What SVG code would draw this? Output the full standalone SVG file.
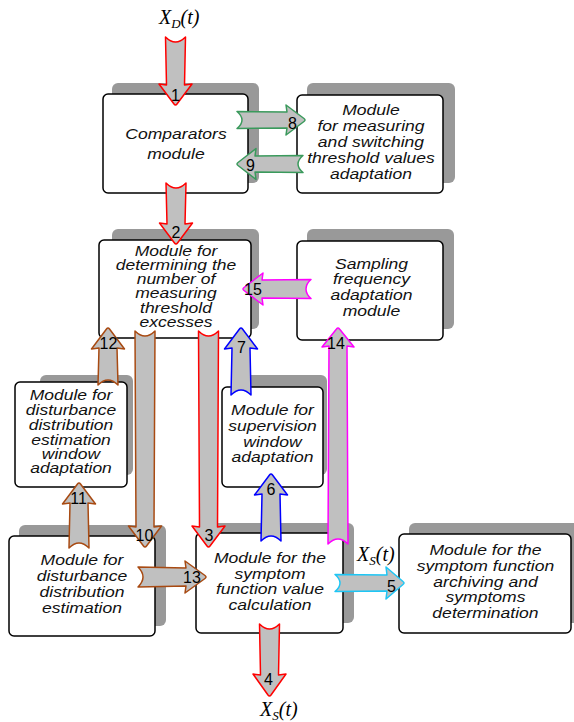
<svg xmlns="http://www.w3.org/2000/svg" width="574" height="722" viewBox="0 0 574 722">
  <style>
    .shadow { fill: #999999; }
    .box { fill: #ffffff; stroke: #000000; stroke-width: 1.5; }
    .lbl { font-family: "Liberation Sans", Arial, sans-serif; font-style: italic; font-size: 15px; text-anchor: middle; fill: #111111; }
    .tight { font-size: 14px; }
    .num { font-family: "Liberation Sans", Arial, sans-serif; font-size: 16px; text-anchor: middle; fill: #000000; }
    .sig { font-family: "Liberation Serif", "Times New Roman", serif; font-style: italic; font-size: 20px; fill: #000000; }
    .arr { fill: #c0c0c0; stroke-width: 1.5; stroke-linejoin: round; }
    .red { stroke: #ff0000; }
    .green { stroke: #3a9a5c; }
    .brown { stroke: #a84a12; }
    .blue { stroke: #0000ff; }
    .magenta { stroke: #ff00ff; }
    .cyan { stroke: #1ec6f5; }
  </style>

  <!-- signal labels -->
  <text class="sig" x="159" y="24">X<tspan font-size="13" dy="4">D</tspan><tspan dy="-4">(t)</tspan></text>
  <text class="sig" x="357" y="561">X<tspan font-size="13" dy="4">S</tspan><tspan dy="-4">(t)</tspan></text>
  <text class="sig" x="260" y="715.5">X<tspan font-size="13" dy="4">S</tspan><tspan dy="-4">(t)</tspan></text>

  <g id="comparators">
    <rect class="shadow" x="112" y="83" width="147" height="100" rx="6"/>
    <rect class="box" x="103" y="94" width="145" height="99" rx="5"/>
    <text class="lbl" transform="translate(176 0) scale(1.17 1)"><tspan x="0" y="139">Comparators</tspan><tspan x="0" y="159">module</tspan></text>
  </g>

  <g id="threshold-adaptation">
    <rect class="shadow" x="307" y="83" width="148" height="100" rx="6"/>
    <rect class="box" x="297" y="95" width="146" height="98" rx="5"/>
    <text class="lbl" transform="translate(371 0) scale(1.17 1)"><tspan x="0" y="115">Module</tspan><tspan x="0" y="131">for measuring</tspan><tspan x="0" y="147">and switching</tspan><tspan x="0" y="163">threshold values</tspan><tspan x="0" y="179">adaptation</tspan></text>
  </g>

  <g id="excess-counter">
    <rect class="shadow" x="112" y="229" width="147" height="100" rx="6"/>
    <rect class="box" x="99" y="240" width="152" height="98" rx="5"/>
    <text class="lbl tight" transform="translate(176 0) scale(1.25 1)"><tspan x="0" y="256">Module for</tspan><tspan x="0" y="270">determining the</tspan><tspan x="0" y="284.5">number of</tspan><tspan x="0" y="298.5">measuring</tspan><tspan x="0" y="313">threshold</tspan><tspan x="0" y="327">excesses</tspan></text>
  </g>

  <g id="sampling-adaptation">
    <rect class="shadow" x="307" y="229" width="147" height="100" rx="6"/>
    <rect class="box" x="297" y="241" width="146" height="99" rx="5"/>
    <text class="lbl" transform="translate(371.5 0) scale(1.17 1)"><tspan x="0" y="269">Sampling</tspan><tspan x="0" y="284.5">frequency</tspan><tspan x="0" y="300.5">adaptation</tspan><tspan x="0" y="316.5">module</tspan></text>
  </g>

  <g id="estimation-window">
    <rect class="shadow" x="40" y="375" width="93" height="100" rx="6"/>
    <rect class="box" x="15" y="382" width="112" height="105" rx="5"/>
    <text class="lbl tight" transform="translate(71 0) scale(1.25 1)"><tspan x="0" y="400.5">Module for</tspan><tspan x="0" y="415.5">disturbance</tspan><tspan x="0" y="430">distribution</tspan><tspan x="0" y="445">estimation</tspan><tspan x="0" y="459">window</tspan><tspan x="0" y="473.5">adaptation</tspan></text>
  </g>

  <g id="supervision-window">
    <rect class="shadow" x="236" y="375" width="91" height="100" rx="6"/>
    <rect class="box" x="222" y="387" width="101" height="100" rx="5"/>
    <text class="lbl" transform="translate(272.5 0) scale(1.17 1)"><tspan x="0" y="415">Module for</tspan><tspan x="0" y="431">supervision</tspan><tspan x="0" y="447">window</tspan><tspan x="0" y="462.5">adaptation</tspan></text>
  </g>

  <g id="disturbance-estimation">
    <rect class="shadow" x="19" y="525" width="147" height="101" rx="6"/>
    <rect class="box" x="9" y="536" width="146" height="100" rx="5"/>
    <text class="lbl" transform="translate(82 0) scale(1.17 1)"><tspan x="0" y="565">Module for</tspan><tspan x="0" y="581">disturbance</tspan><tspan x="0" y="597">distribution</tspan><tspan x="0" y="613">estimation</tspan></text>
  </g>

  <g id="symptom-calculation">
    <rect class="shadow" x="206" y="523" width="148" height="100" rx="6"/>
    <rect class="box" x="196" y="533" width="147" height="100" rx="5"/>
    <text class="lbl" transform="translate(270 0) scale(1.17 1)"><tspan x="0" y="563">Module for the</tspan><tspan x="0" y="579">symptom</tspan><tspan x="0" y="594.5">function value</tspan><tspan x="0" y="610">calculation</tspan></text>
  </g>

  <g id="symptom-archiving">
    <rect class="shadow" x="409" y="523" width="175" height="100" rx="6"/>
    <rect class="box" x="399" y="534" width="172" height="99" rx="5"/>
    <text class="lbl" transform="translate(485.5 0) scale(1.17 1)"><tspan x="0" y="555">Module for the</tspan><tspan x="0" y="571">symptom function</tspan><tspan x="0" y="587">archiving and</tspan><tspan x="0" y="602.5">symptoms</tspan><tspan x="0" y="618">determination</tspan></text>
  </g>

  <!-- block arrows: drawn along +x from tail (0,0) to tip, then placed -->
  <g id="connectors">
    <path class="arr red" transform="translate(175.5 37) rotate(90)" d="M0,-10 L48,-9 L47,-16.5 L67,-1.5 Q69,0 67,1.5 L47,16.5 L48,9 L0,10 C3,7 5,3 5,0 C5,-3 3,-7 0,-10Z"/>
    <text class="num" x="175.5" y="101">1</text>

    <path class="arr red" transform="translate(176 183) rotate(90)" d="M0,-10 L41,-9 L40,-16.5 L60,-1.5 Q62,0 60,1.5 L40,16.5 L41,9 L0,10 C3,7 5,3 5,0 C5,-3 3,-7 0,-10Z"/>
    <text class="num" x="176" y="238">2</text>

    <path class="arr red" transform="translate(208.5 331) rotate(90)" d="M0,-10 L196,-9 L195,-16.5 L215,-1.5 Q217,0 215,1.5 L195,16.5 L196,9 L0,10 C3,7 5,3 5,0 C5,-3 3,-7 0,-10Z"/>
    <text class="num" x="209" y="541">3</text>

    <path class="arr red" transform="translate(269.5 624) rotate(90)" d="M0,-10 L51,-9 L50,-16.5 L71,-1.5 Q73,0 71,1.5 L50,16.5 L51,9 L0,10 C3,7 5,3 5,0 C5,-3 3,-7 0,-10Z"/>
    <text class="num" x="268.5" y="685">4</text>

    <path class="arr cyan" transform="translate(335 583)" d="M0,-8.5 L52,-8 L51,-16 L68,-1.5 Q70,0 68,1.5 L51,16 L52,8 L0,8.5 C3,6 5,3 5,0 C5,-3 3,-6 0,-8.5Z"/>
    <text class="num" x="391.5" y="592">5</text>

    <path class="arr blue" transform="translate(271 541) rotate(-90)" d="M0,-10 L47,-9 L46,-16.5 L66,-1.5 Q68,0 66,1.5 L46,16.5 L47,9 L0,10 C3,7 5,3 5,0 C5,-3 3,-7 0,-10Z"/>
    <text class="num" x="271" y="495">6</text>

    <path class="arr blue" transform="translate(241 395) rotate(-90)" d="M0,-10 L47,-9 L46,-16.5 L66,-1.5 Q68,0 66,1.5 L46,16.5 L47,9 L0,10 C3,7 5,3 5,0 C5,-3 3,-7 0,-10Z"/>
    <text class="num" x="241.5" y="352.5">7</text>

    <path class="arr green" transform="translate(237 120)" d="M0,-8.5 L50,-8 L49,-15 L67,-1.5 Q69,0 67,1.5 L49,15 L50,8 L0,8.5 C3,6 5,3 5,0 C5,-3 3,-6 0,-8.5Z"/>
    <text class="num" x="292.5" y="128.5">8</text>

    <path class="arr green" transform="translate(303 164) rotate(180)" d="M0,-8.5 L48,-8 L47,-15.5 L65,-1.5 Q67,0 65,1.5 L47,15.5 L48,8 L0,8.5 C3,6 5,3 5,0 C5,-3 3,-6 0,-8.5Z"/>
    <text class="num" x="250.5" y="171">9</text>

    <path class="arr brown" transform="translate(145 331) rotate(90)" d="M0,-10 L196,-9 L195,-16.5 L215,-1.5 Q217,0 215,1.5 L195,16.5 L196,9 L0,10 C3,7 5,3 5,0 C5,-3 3,-7 0,-10Z"/>
    <text class="num" x="144.5" y="540.5">10</text>

    <path class="arr brown" transform="translate(79 548) rotate(-90)" d="M0,-10 L45,-9 L44,-16.5 L64,-1.5 Q66,0 64,1.5 L44,16.5 L45,9 L0,10 C3,7 5,3 5,0 C5,-3 3,-7 0,-10Z"/>
    <text class="num" x="78.5" y="503.5">11</text>

    <path class="arr brown" transform="translate(108 385) rotate(-90)" d="M0,-10 L37,-9 L36,-16.5 L56,-1.5 Q58,0 56,1.5 L36,16.5 L37,9 L0,10 C3,7 5,3 5,0 C5,-3 3,-7 0,-10Z"/>
    <text class="num" x="108.5" y="348.5">12</text>

    <path class="arr brown" transform="translate(138 577)" d="M0,-10 L48,-9 L47,-16 L67,-1.5 Q69,0 67,1.5 L47,16 L48,9 L0,10 C3,7 5,3 5,0 C5,-3 3,-7 0,-10Z"/>
    <text class="num" x="192" y="583">13</text>

    <path class="arr magenta" transform="translate(338 544) rotate(-90)" d="M0,-10 L198,-9 L197,-16 L215,-1.5 Q217,0 215,1.5 L197,16 L198,9 L0,10 C3,7 5,3 5,0 C5,-3 3,-7 0,-10Z"/>
    <text class="num" x="336" y="348.5">14</text>

    <path class="arr magenta" transform="translate(311 289) rotate(180)" d="M0,-9.5 L49,-9 L48,-16 L67,-1.5 Q69,0 67,1.5 L48,16 L49,9 L0,9.5 C3,7 5,3 5,0 C5,-3 3,-7 0,-9.5Z"/>
    <text class="num" x="253" y="295">15</text>
  </g>
</svg>
